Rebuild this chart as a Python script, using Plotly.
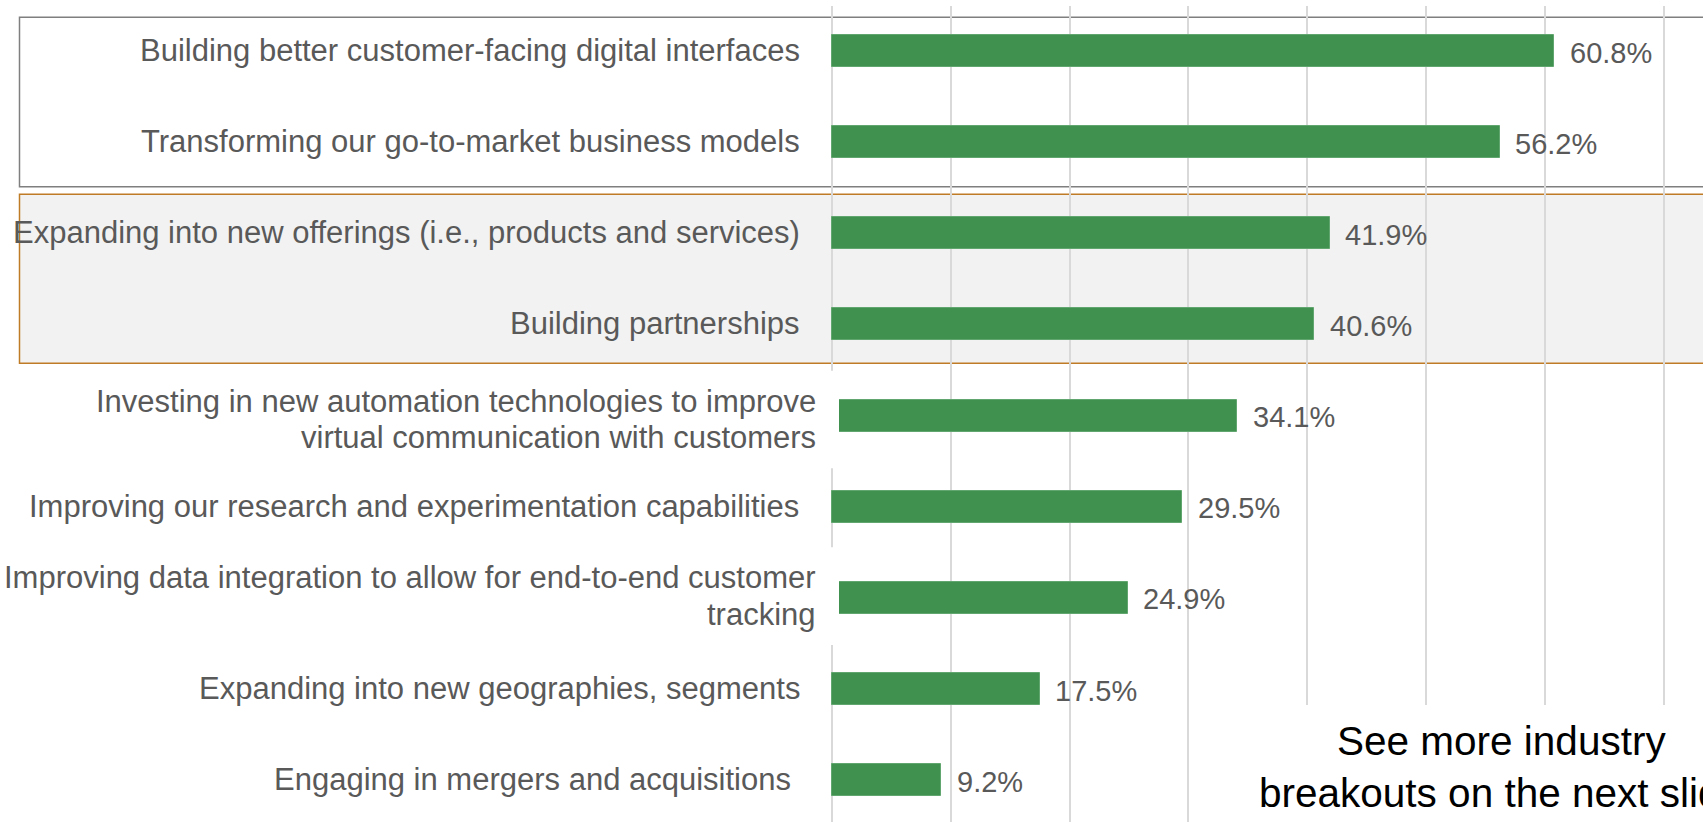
import plotly.graph_objects as go

# ---------------- data ----------------
categories = [
    "Building better customer-facing digital interfaces",
    "Transforming our go-to-market business models",
    "Expanding into new offerings (i.e., products and services)",
    "Building partnerships",
    "Investing in new automation technologies to improve<br>virtual communication with customers",
    "Improving our research and experimentation capabilities",
    "Improving data integration to allow for end-to-end customer<br>tracking",
    "Expanding into new geographies, segments",
    "Engaging in mergers and acquisitions",
]
values = [60.8, 56.2, 41.9, 40.6, 34.1, 29.5, 24.9, 17.5, 9.2]
x_ticks = [0, 10, 20, 30, 40, 50, 60, 70, 80]
note_lines = ["See more industry", "breakouts on the next slide"]

# ---------------- layout geometry (pixels) ----------------
W, H = 1703, 822
PL, PR, PT, PB = 828, W, 6, H          # plot area in pixels
X0_PX = 832                            # pixel of x = 0
PX_PER_UNIT = 11.88                    # pixels per percentage point
Y0_PX = 51                             # pixel centre of first category
ROW_PX = 91.16                         # pixels between categories

def px_x(p):
    return (p - PL) / (PR - PL)

def px_y(p):
    return (PB - p) / (PB - PT)

FONT = "Liberation Sans, Arial, Helvetica, sans-serif"
GRAY_TXT = "#595959"
GREEN = "#40914F"

fig = go.Figure(
    go.Bar(
        y=categories,
        x=values,
        orientation="h",
        width=32 / ROW_PX,
        marker=dict(color=GREEN, line=dict(color="#62A66F", width=1)),
        hoverinfo="skip",
    )
)

shapes = [
    # grey-bordered group (top two rows)
    dict(type="rect", xref="paper", yref="paper", layer="below",
         x0=px_x(19.5), x1=px_x(W + 20), y0=px_y(186.7), y1=px_y(17.3),
         line=dict(color="#7F7F7F", width=1.5), fillcolor="white"),
    # orange-bordered shaded group (rows 3-4)
    dict(type="rect", xref="paper", yref="paper", layer="below",
         x0=px_x(19.5), x1=px_x(W + 20), y0=px_y(363.3), y1=px_y(194.3),
         line=dict(color="#BF7B25", width=1.5), fillcolor="#F2F2F2"),
    # white label boxes of the two-line labels (cover axis line & bar start)
    dict(type="rect", xref="paper", yref="paper", layer="above",
         x0=px_x(600), x1=px_x(839), y0=px_y(468.3), y1=px_y(370.7),
         line=dict(width=0), fillcolor="white"),
    dict(type="rect", xref="paper", yref="paper", layer="above",
         x0=px_x(600), x1=px_x(839), y0=px_y(645), y1=px_y(547.3),
         line=dict(width=0), fillcolor="white"),
    # white note box bottom right
    dict(type="rect", xref="paper", yref="paper", layer="above",
         x0=px_x(1240), x1=px_x(W + 20), y0=px_y(H + 5), y1=px_y(705),
         line=dict(width=0), fillcolor="white"),
]

# label right edges and vertical shifts (style, per row)
label_right = [800, 800, 800, 800, 815.5, 799, 815.5, 800, 791]
two_line_shifts = {4: [14.5, -22.1], 6: [20.4, -16.3]}

annotations = []
for i, (cat, val) in enumerate(zip(categories, values)):
    lines = cat.split("<br>")
    shifts = two_line_shifts.get(i, [0.5])
    for line, ys in zip(lines, shifts):
        annotations.append(dict(
            xref="paper", yref="y", x=px_x(label_right[i]), y=cat,
            xanchor="right", yanchor="middle", yshift=ys,
            text=line, showarrow=False, borderpad=0, borderwidth=0,
            font=dict(family=FONT, size=31, color=GRAY_TXT),
        ))
    annotations.append(dict(
        xref="x", yref="y", x=val, y=cat,
        xanchor="left", yanchor="middle", xshift=15.5, yshift=-1.5,
        text=f"{val}%", showarrow=False, borderpad=0, borderwidth=0,
        font=dict(family=FONT, size=29, color=GRAY_TXT),
    ))

note_y = [741, 792.7]
for line, py in zip(note_lines, note_y):
    annotations.append(dict(
        xref="paper", yref="paper", x=px_x(1501), y=px_y(py),
        xanchor="center", yanchor="middle", text=line, showarrow=False,
        borderpad=0, borderwidth=0,
        font=dict(family=FONT, size=40.5, color="#000000"),
    ))

fig.update_layout(
    width=W, height=H,
    margin=dict(l=PL, r=W - PR, t=PT, b=H - PB, pad=0),
    paper_bgcolor="white", plot_bgcolor="rgba(0,0,0,0)",
    showlegend=False, bargap=0,
    shapes=shapes, annotations=annotations,
    xaxis=dict(
        range=[(PL - X0_PX) / PX_PER_UNIT, (PR - X0_PX) / PX_PER_UNIT],
        tickmode="array", tickvals=x_ticks, showticklabels=False,
        showgrid=True, gridcolor="#D9D9D9", gridwidth=1.5,
        zeroline=False, showline=False, ticks="", fixedrange=True,
    ),
    yaxis=dict(
        type="category", categoryorder="array", categoryarray=categories,
        range=[(PB - Y0_PX) / ROW_PX, -(Y0_PX - PT) / ROW_PX],
        showticklabels=False, showgrid=False, zeroline=False,
        showline=False, ticks="", fixedrange=True,
    ),
)

fig.write_html(
    "out.html",
    config={"displayModeBar": False},
    post_script="document.body.style.margin='0';document.body.style.overflow='hidden';",
)
